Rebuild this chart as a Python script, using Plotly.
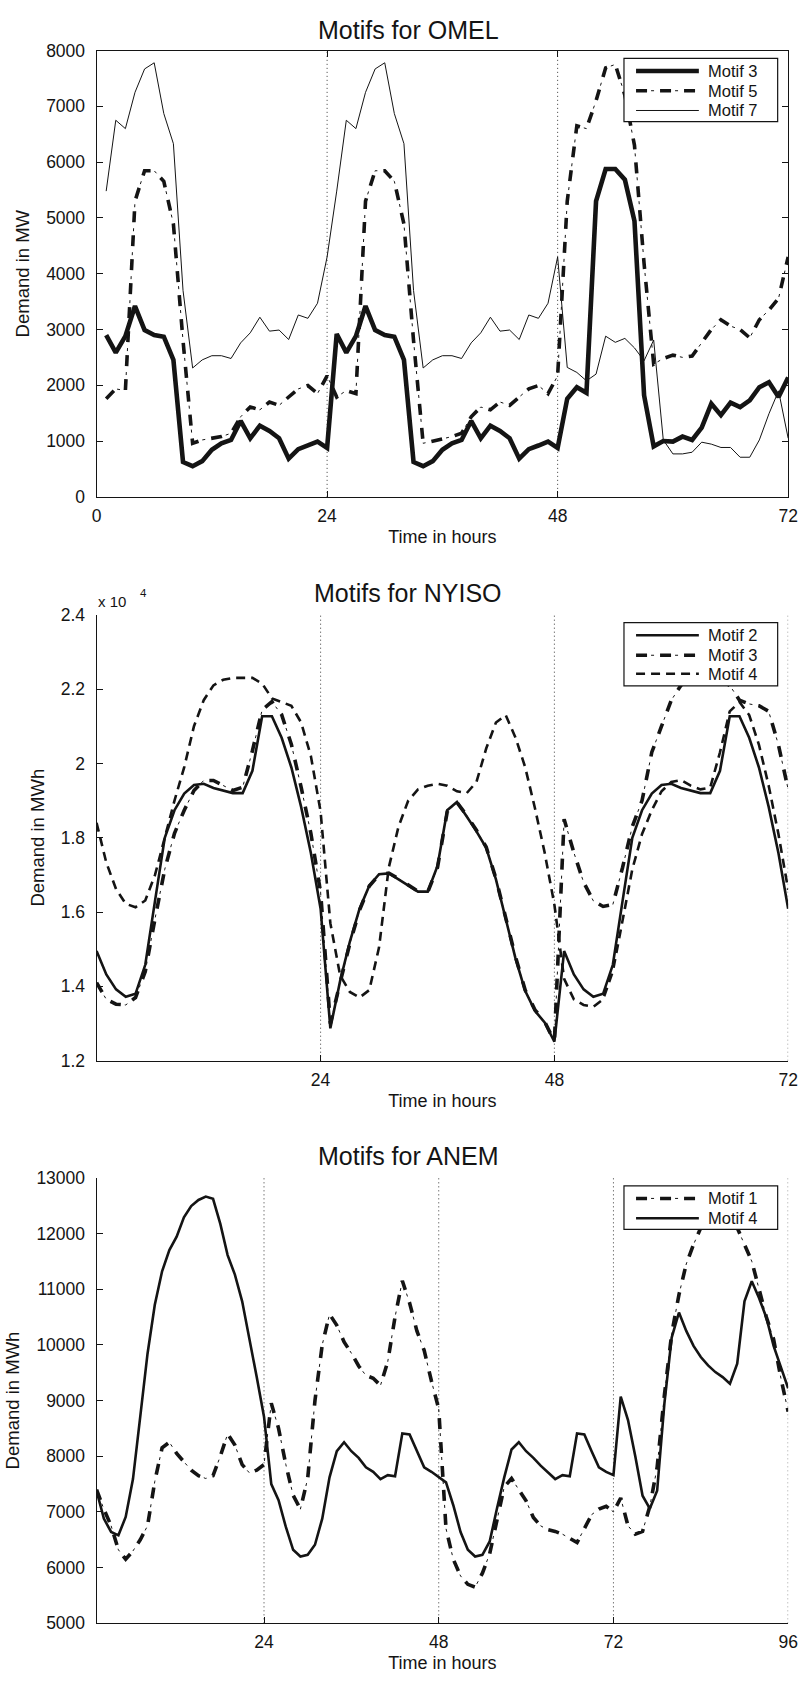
import plotly.graph_objects as go

W, H = 807, 1686

# ---------------- DATA ----------------
hours_omel = list(range(1, 73))
omel_motif3 = [
    2900, 2585, 2880, 3420, 2990, 2900, 2870, 2455, 625, 550, 640, 845, 960, 1020, 1360, 1050, 1275, 1180, 1050, 685, 855, 920, 990, 875,
    2920, 2585, 2880, 3420, 2990, 2900, 2870, 2455, 625, 550, 640, 845, 960, 1020, 1360, 1050, 1275, 1180, 1050, 685, 855, 920, 990, 875,
    1760, 1965, 1865, 5300, 5875, 5875, 5685, 4945, 1820, 905, 1000, 990, 1080, 1020, 1240, 1670, 1465, 1690, 1610, 1730, 1965, 2055, 1790, 2140]
omel_motif5 = [
    1760, 1935, 1905, 5300, 5845, 5845, 5655, 4890, 2800, 960, 1020, 1050, 1080, 1140, 1435, 1610, 1560, 1700, 1640, 1790, 1935, 1995, 1850, 2170,
    1790, 1905, 1850, 5300, 5845, 5845, 5655, 4890, 2800, 960, 1000, 1050, 1080, 1140, 1435, 1610, 1560, 1700, 1640, 1790, 1935, 1995, 1850, 2170,
    5300, 6650, 6600, 7100, 7690, 7750, 7200, 6300, 4180, 2380, 2480, 2540, 2500, 2525, 2760, 3000, 3175, 3060, 3000, 2850, 3175, 3350, 3560, 4300]
omel_motif7 = [
    5480, 6750, 6600, 7250, 7670, 7780, 6870, 6330, 3700, 2310, 2455, 2530, 2530, 2480, 2760, 2940, 3220, 2970, 2990, 2820, 3260, 3200, 3470, 4300,
    5480, 6750, 6600, 7250, 7670, 7780, 6870, 6330, 3700, 2310, 2455, 2530, 2530, 2480, 2760, 2940, 3220, 2970, 2990, 2820, 3260, 3200, 3470, 4300,
    2320, 2230, 2080, 2200, 2880, 2770, 2840, 2670, 2440, 2810, 1020, 770, 770, 800, 980, 945, 885, 885, 710, 710, 1020, 1490, 1900, 1050]
omel_yticks = [0, 1000, 2000, 3000, 4000, 5000, 6000, 7000, 8000]

hours_nyiso = list(range(1, 73))
nyiso_motif2 = [
    14950, 14320, 13920, 13720, 13800, 14580, 16300, 18000, 18740, 19190, 19420, 19450, 19340, 19270, 19200, 19200, 19800, 21270, 21270, 20690, 19890, 18830, 17590, 16090,
    12870, 14140, 15200, 16090, 16710, 17020, 17040, 16880, 16720, 16550, 16550, 17240, 18740, 18960, 18570, 18170, 17730, 16880, 15820, 14760, 13880, 13340, 13030, 12510,
    14950, 14320, 13920, 13720, 13800, 14580, 16300, 18000, 18740, 19190, 19420, 19450, 19340, 19270, 19200, 19200, 19800, 21270, 21270, 20690, 19890, 18830, 17590, 16090]
nyiso_motif3 = [
    14100, 13650, 13520, 13500, 13700, 14400, 15820, 17150, 18120, 18740, 19270, 19540, 19540, 19410, 19270, 19360, 20340, 21440, 21660, 21310, 20510, 19360, 18120, 16530,
    13000, 14100, 15150, 16050, 16700, 17000, 17050, 16900, 16720, 16560, 16540, 17200, 18700, 18950, 18600, 18200, 17750, 16900, 15850, 14800, 13900, 13370, 13050, 12520,
    18500, 17600, 16800, 16300, 16150, 16200, 17200, 18300, 19000, 20300, 21000, 21700, 22100, 22300, 22300, 22300, 22250, 22100, 21700, 21600, 21550, 21400, 20500, 19300]
nyiso_motif4 = [
    18400, 17330, 16620, 16220, 16130, 16310, 17000, 18000, 19000, 19900, 21000, 21700, 22100, 22250, 22300, 22300, 22300, 22150, 21750, 21650, 21550, 21100, 20200, 18700,
    15700, 14300, 13850, 13700, 13900, 15050, 17200, 18300, 19000, 19300, 19400, 19450, 19400, 19250, 19200, 19500, 20400, 21100, 21300, 20700, 19900, 18800, 17600, 16200,
    14200, 13650, 13500, 13450, 13650, 14400, 15800, 17150, 18100, 18740, 19250, 19500, 19550, 19400, 19300, 19350, 20300, 21400, 21650, 21300, 20500, 19400, 18100, 16600]
nyiso_yticks = [12000, 14000, 16000, 18000, 20000, 22000, 24000]
nyiso_ticktext = ["1.2", "1.4", "1.6", "1.8", "2", "2.2", "2.4"]

hours_anem = list(range(1, 97))
anem_motif1 = [
    7400, 7050, 6750, 6320, 6150, 6300, 6500, 6750, 7550, 8150, 8250, 8050, 7900, 7750, 7650, 7600, 7650, 8000, 8400, 8200, 7850, 7700, 7750, 7850,
    8950, 8500, 7850, 7300, 7050, 7600, 9000, 10000, 10550, 10350, 10050, 9850, 9620, 9450, 9400, 9270, 9700, 10500, 11150, 10750, 10250, 9900, 9350, 8850,
    6700, 6150, 5850, 5700, 5650, 5900, 6250, 6850, 7450, 7600, 7400, 7200, 6900, 6750, 6680, 6650, 6600, 6520, 6450, 6700, 6950, 7050, 7100, 7000,
    7250, 6750, 6600, 6650, 7100, 7800, 9100, 10200, 10900, 11450, 11800, 12100, 12350, 12550, 12600, 12500, 12100, 11800, 11500, 11000, 10500, 10100, 9400, 8800]
anem_motif4 = [
    7380, 6880, 6640, 6580, 6910, 7590, 8710, 9840, 10720, 11320, 11700, 11940, 12290, 12490, 12600, 12660, 12620, 12170, 11610, 11260, 10780, 10130, 9420, 8710,
    7500, 7210, 6730, 6320, 6200, 6230, 6410, 6880, 7620, 8090, 8250, 8090, 7970, 7800, 7720, 7590, 7660, 7640, 8410, 8390, 8090, 7800, 7720, 7620,
    7530, 7120, 6640, 6320, 6200, 6230, 6470, 7060, 7620, 8120, 8250, 8090, 7970, 7830, 7710, 7590, 7660, 7640, 8410, 8390, 8090, 7800, 7720, 7660,
    9070, 8650, 8000, 7290, 7060, 7380, 8950, 10130, 10580, 10250, 9980, 9780, 9630, 9510, 9420, 9300, 9660, 10780, 11140, 10840, 10490, 9980, 9600, 9220]
anem_yticks = [5000, 6000, 7000, 8000, 9000, 10000, 11000, 12000, 13000]
anem_ticktext = ["5000", "6000", "7000", "8000", "9000", "10000", "11000", "12000", "13000"]

day_marks_omel = [24, 48]
day_marks_nyiso = [24, 48, 72]
day_marks_anem = [24, 48, 72, 96]

# ---------------- STYLE ----------------
INK = "#141414"
FONT = "Liberation Sans, Arial, Helvetica, sans-serif"
TICK_SIZE = 17.5

SOLID_THICK = [dict(width=4.6, dash="solid")]
SOLID_MED = [dict(width=2.6, dash="solid")]
SOLID_THIN = [dict(width=1.0, dash="solid")]
DASHED = [dict(width=2.6, dash="9px,6px")]
DASHDOT = [dict(width=3.6, dash="11px,13px"), dict(width=1.0, dash="0px,15px,3px,6px")]

def px_x(X):
    return X / W

def px_y(Y):
    return 1 - Y / H

panels = [
    dict(ax="", left=93.3, right=798, top=41, bottom=492.7),
    dict(ax="2", left=93.3, right=798, top=612, bottom=1063.3),
    dict(ax="3", left=93.3, right=798, top=1181.7, bottom=1632.7),
]

fig = go.Figure()

def add_series(hours, values, styles, ax):
    for st in styles:
        fig.add_trace(go.Scatter(
            x=hours, y=values, mode="lines", showlegend=False, hoverinfo="skip",
            line=dict(color=INK, width=st["width"], dash=st["dash"]),
            xaxis="x" + ax, yaxis="y" + ax))

add_series(hours_omel, omel_motif7, SOLID_THIN, "")
add_series(hours_omel, omel_motif5, DASHDOT, "")
add_series(hours_omel, omel_motif3, SOLID_THICK, "")

add_series(hours_nyiso, nyiso_motif4, DASHED, "2")
add_series(hours_nyiso, nyiso_motif3, DASHDOT, "2")
add_series(hours_nyiso, nyiso_motif2, SOLID_MED, "2")

add_series(hours_anem, anem_motif1, DASHDOT, "3")
add_series(hours_anem, anem_motif4, SOLID_MED, "3")

shapes = []
annotations = []

# day boundary dotted lines
for ax, marks in [("", day_marks_omel), ("2", day_marks_nyiso), ("3", day_marks_anem)]:
    for m in marks:
        shapes.append(dict(type="line", xref="x" + ax, yref=("y" + ax) + " domain",
                           x0=m, x1=m, y0=0, y1=1, layer="below",
                           line=dict(color="#3a3a3a", width=1, dash="1px,3px")))

# legends drawn as boxes
def draw_legend(x0, x1, y0, y1, rows):
    shapes.append(dict(type="rect", xref="paper", yref="paper",
                       x0=px_x(x0), x1=px_x(x1), y0=px_y(y1), y1=px_y(y0),
                       line=dict(color=INK, width=1.2), fillcolor="white", layer="above"))
    for label, yc, styles in rows:
        for st in styles:
            shapes.append(dict(type="line", xref="paper", yref="paper",
                               x0=px_x(643), x1=px_x(707), y0=px_y(yc), y1=px_y(yc),
                               line=dict(color=INK, width=st["width"], dash=st["dash"]),
                               layer="above"))
        annotations.append(dict(text=label, xref="paper", yref="paper",
                                x=px_x(714), y=px_y(yc), xanchor="left", yanchor="middle",
                                showarrow=False, font=dict(size=16.5, color=INK, family=FONT)))

draw_legend(630.7, 787.3, 49, 113, [("Motif 3", 61.7, SOLID_THICK),
                                    ("Motif 5", 81.7, DASHDOT),
                                    ("Motif 7", 101.7, SOLID_THIN)])
draw_legend(630.7, 787.3, 620, 684, [("Motif 2", 632.7, SOLID_MED),
                                     ("Motif 3", 653.0, DASHDOT),
                                     ("Motif 4", 671.7, DASHED)])
draw_legend(630.7, 787.3, 1190, 1234, [("Motif 1", 1202.7, DASHDOT),
                                       ("Motif 4", 1222.7, SOLID_MED)])

# panel titles
for title, yc in [("Motifs for OMEL", 20), ("Motifs for NYISO", 589.5), ("Motifs for ANEM", 1160)]:
    annotations.append(dict(text=title, xref="paper", yref="paper",
                            x=px_x(411), y=px_y(yc), xanchor="center", yanchor="middle",
                            showarrow=False, font=dict(size=25, color=INK, family=FONT)))

# exponent label for NYISO
annotations.append(dict(text="x 10", xref="paper", yref="paper", x=px_x(93), y=px_y(599),
                        xanchor="left", yanchor="middle", showarrow=False,
                        font=dict(size=15, color=INK, family=FONT)))
annotations.append(dict(text="4", xref="paper", yref="paper", x=px_x(136), y=px_y(590),
                        xanchor="left", yanchor="middle", showarrow=False,
                        font=dict(size=11.5, color=INK, family=FONT)))

def xaxis_cfg(p, rng, ticks, mirror):
    return dict(domain=[px_x(p["left"]), px_x(p["right"])], range=rng,
                tickvals=ticks, ticks="inside", ticklen=6, tickcolor=INK,
                showline=True, linecolor=INK, linewidth=1, mirror=mirror,
                showgrid=False, zeroline=False, anchor="y" + p["ax"],
                tickfont=dict(size=TICK_SIZE, color=INK), ticklabelstandoff=3,
                ticklabeloverflow="allow",
                title=dict(text="Time in hours", font=dict(size=18, color=INK), standoff=5))

def yaxis_cfg(p, rng, ticks, mirror, title, ticktext):
    return dict(domain=[px_y(p["bottom"]), px_y(p["top"])], range=rng,
                tickvals=ticks, ticktext=ticktext, ticks="inside", ticklen=6, tickcolor=INK,
                showline=True, linecolor=INK, linewidth=1, mirror=mirror,
                showgrid=False, zeroline=False, anchor="x" + p["ax"],
                tickfont=dict(size=TICK_SIZE, color=INK), ticklabelstandoff=7,
                ticklabeloverflow="allow",
                title=dict(text=title, font=dict(size=18.5, color=INK), standoff=11))

fig.update_layout(
    width=W, height=H, margin=dict(l=0, r=0, t=0, b=0),
    paper_bgcolor="white", plot_bgcolor="white",
    font=dict(family=FONT, color=INK, size=16),
    showlegend=False,
    xaxis=xaxis_cfg(panels[0], [0, 72], [0, 24, 48, 72], "ticks"),
    yaxis=yaxis_cfg(panels[0], [0, 8000], omel_yticks, "ticks", "Demand in MW",
                    [str(v) for v in omel_yticks]),
    xaxis2=xaxis_cfg(panels[1], [1, 72], [24, 48, 72], False),
    yaxis2=yaxis_cfg(panels[1], [12000, 24000], nyiso_yticks, False, "Demand in MWh", nyiso_ticktext),
    xaxis3=xaxis_cfg(panels[2], [1, 96], [24, 48, 72, 96], False),
    yaxis3=yaxis_cfg(panels[2], [5000, 13000], anem_yticks, False, "Demand in MWh", anem_ticktext),
    shapes=shapes, annotations=annotations,
)

fig.write_html("out.html")
